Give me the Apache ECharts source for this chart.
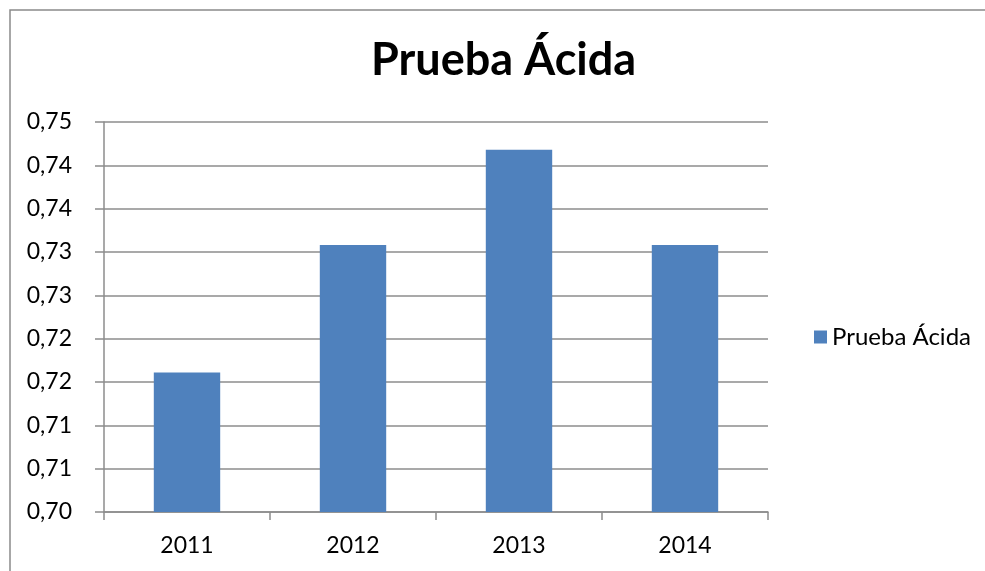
<!DOCTYPE html>
<html>
<head>
<meta charset="utf-8">
<script src="https://cdn.jsdelivr.net/npm/echarts@6/dist/echarts.min.js"></script>
<style>html,body{margin:0;padding:0;background:#fff}#c{width:985px;height:571px}</style>
</head>
<body>
<div id="c"></div>
<script>
const titleText = 'Prueba Ácida';
const categories = ['2011', '2012', '2013', '2014'];
const seriesName = 'Prueba Ácida';
const values = [0.7161, 0.7308, 0.7418, 0.7308];
const yTickLabels = ['0,70', '0,71', '0,71', '0,72', '0,72', '0,73', '0,73', '0,74', '0,74', '0,75'];
const yMin = 0.700, yMax = 0.745, yStep = 0.005;

const font = 'Lato, "Open Sans", sans-serif';
const gridColor = '#8c8c8c';
const chart = echarts.init(document.getElementById('c'), null, {renderer: 'canvas'});
chart.setOption({
  backgroundColor: '#fff',
  animation: false,
  graphic: [{
    type: 'rect', shape: {x: 10, y: 10, width: 1100, height: 700},
    style: {fill: 'none', stroke: '#8a8a8a', lineWidth: 1.5}, silent: true, z: -1
  }],
  title: {
    text: titleText, left: 366, top: 33,
    textStyle: {fontFamily: font, fontWeight: 'bold', fontSize: 45, color: '#000'}
  },
  legend: {
    orient: 'vertical', left: 809, top: 320,
    itemWidth: 13, itemHeight: 13, itemGap: 10,
    icon: 'rect',
    textStyle: {fontFamily: font, fontSize: 24, color: '#000', padding: [0, 0, 0, 0]},
    data: [seriesName]
  },
  grid: {left: 104, right: 217, top: 122, bottom: 59, containLabel: false},
  xAxis: {
    type: 'category', data: categories,
    axisLine: {lineStyle: {color: gridColor, width: 1.5}},
    axisTick: {show: true, length: 8, lineStyle: {color: gridColor, width: 1.5}},
    axisLabel: {fontFamily: font, fontSize: 23, color: '#000', margin: 22}
  },
  yAxis: {
    type: 'value', min: yMin, max: yMax, interval: yStep,
    axisLine: {show: true, lineStyle: {color: gridColor, width: 1.5}},
    axisTick: {show: true, length: 9, lineStyle: {color: gridColor, width: 1.5}},
    splitLine: {show: true, lineStyle: {color: gridColor, width: 1.5}},
    axisLabel: {
      fontFamily: font, fontSize: 23, color: '#000', margin: 32,
      formatter: function (v, i) { return yTickLabels[i] !== undefined ? yTickLabels[i] : ''; }
    }
  },
  series: [{
    name: seriesName, type: 'bar', data: values,
    barCategoryGap: '60%',
    itemStyle: {color: '#4f81bd'}
  }]
});
</script>
</body>
</html>
